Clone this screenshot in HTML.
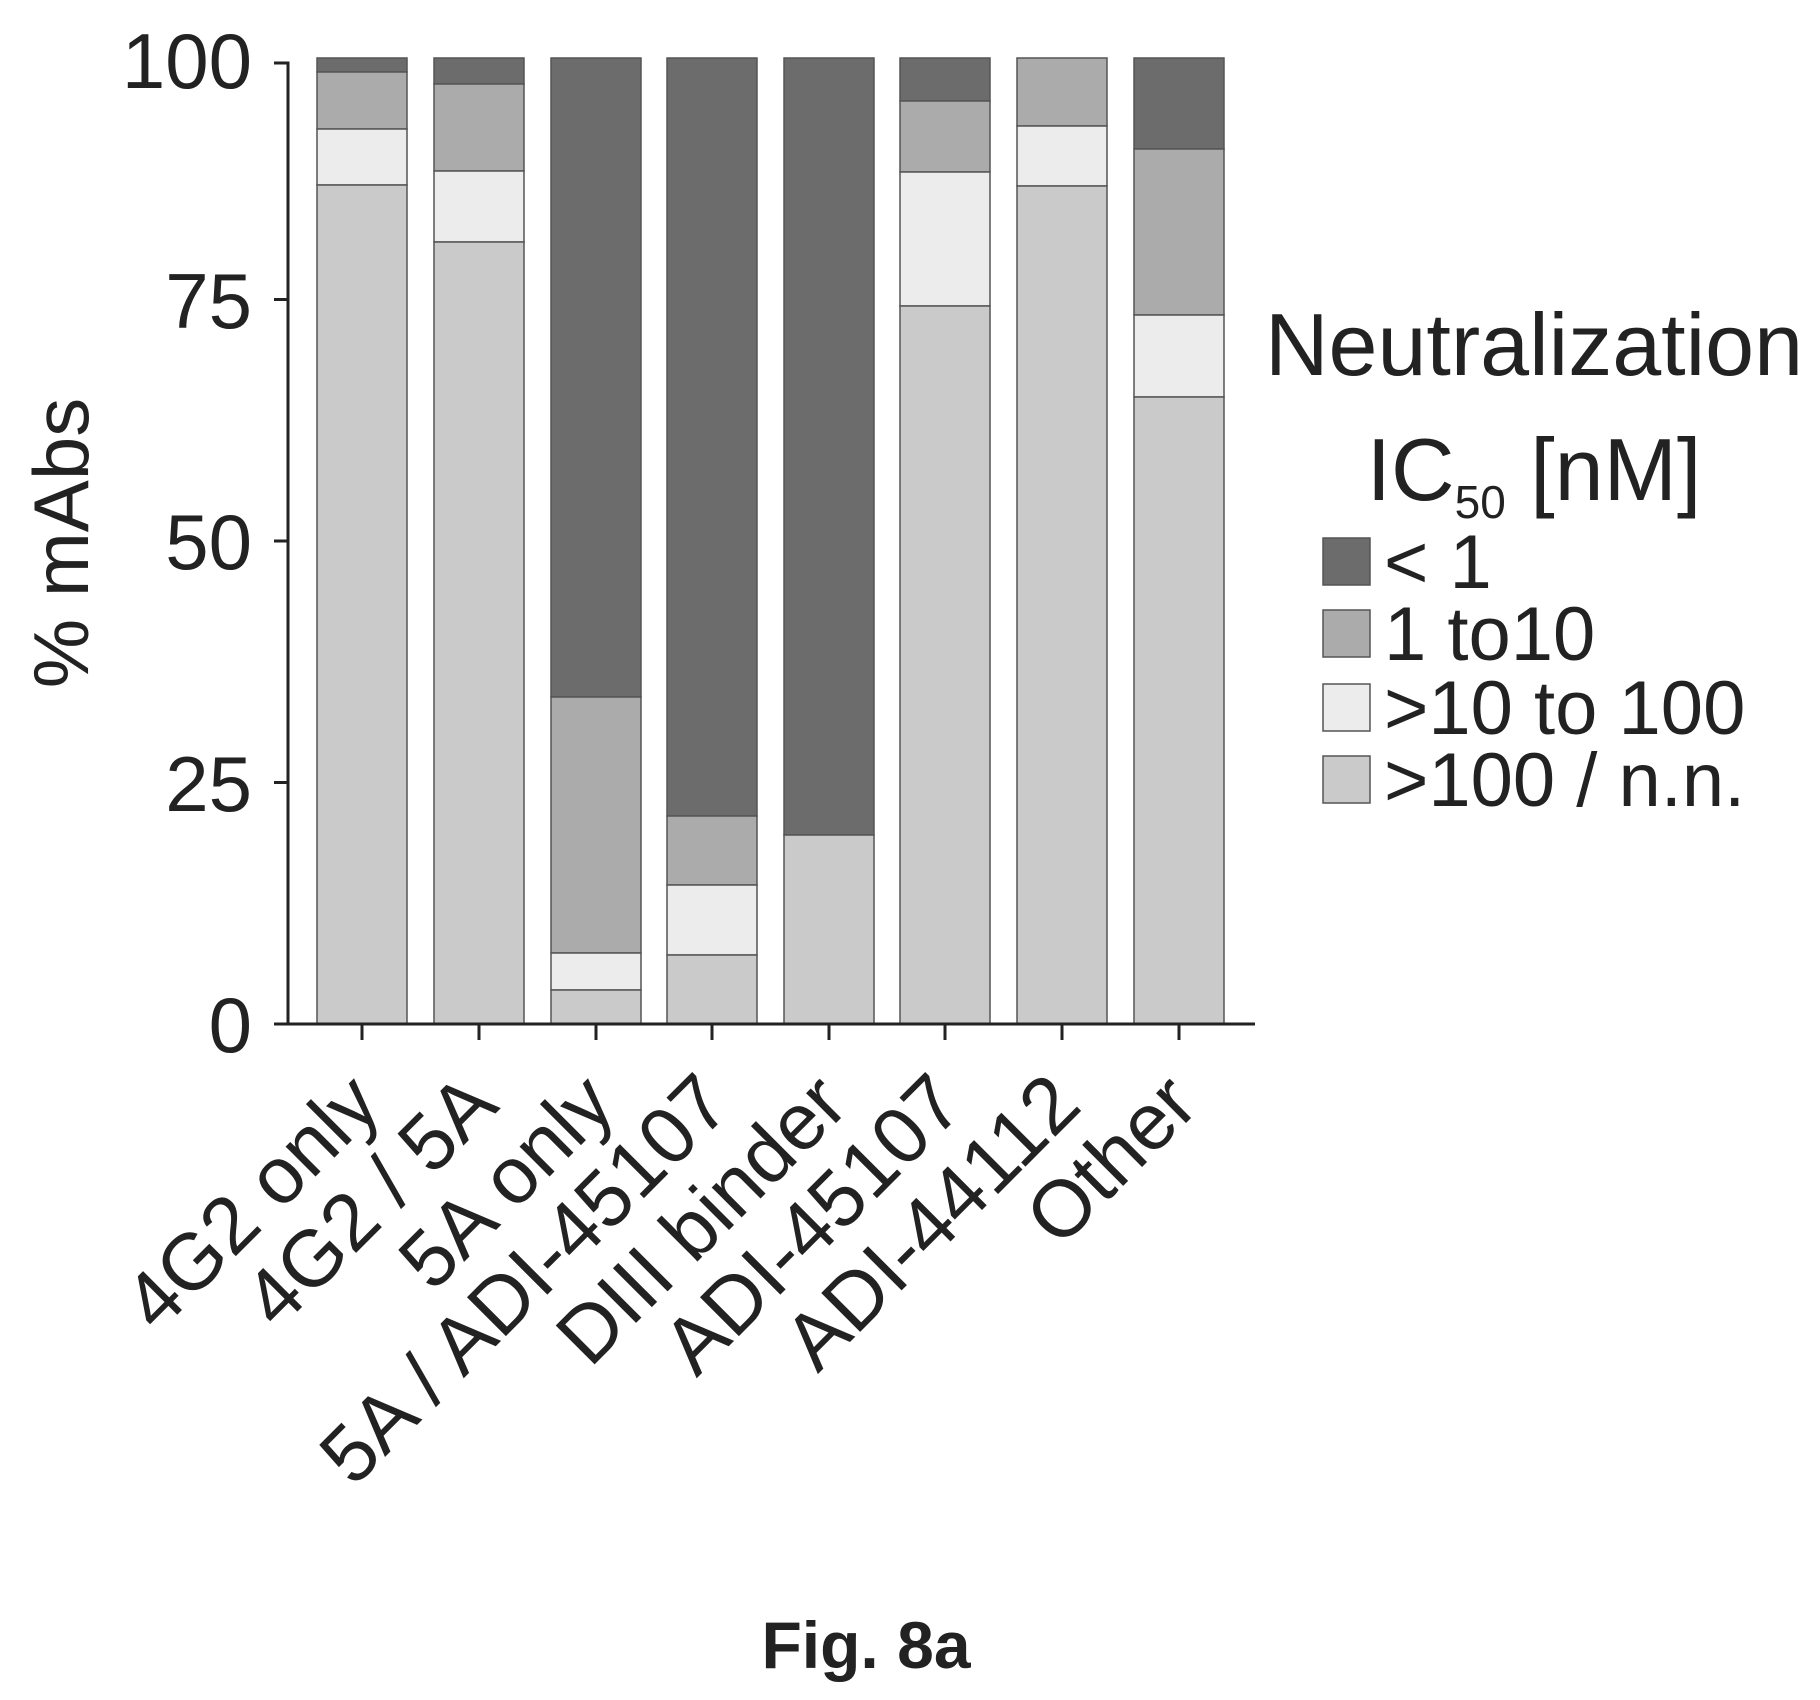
<!DOCTYPE html>
<html><head><meta charset="utf-8"><style>html,body{margin:0;padding:0;background:#fff;}svg{display:block;}</style></head>
<body>
<svg width="1820" height="1700" viewBox="0 0 1820 1700" xmlns="http://www.w3.org/2000/svg" font-family="Liberation Sans, Arial, sans-serif">
<g stroke="#555" stroke-width="1.5">
<rect x="317" y="58" width="90" height="14" fill="#6c6c6c"/>
<rect x="317" y="72" width="90" height="57" fill="#ababab"/>
<rect x="317" y="129" width="90" height="56" fill="#ececec"/>
<rect x="317" y="185" width="90" height="839" fill="#cacaca"/>
<rect x="434" y="58" width="90" height="26" fill="#6c6c6c"/>
<rect x="434" y="84" width="90" height="87" fill="#ababab"/>
<rect x="434" y="171" width="90" height="71" fill="#ececec"/>
<rect x="434" y="242" width="90" height="782" fill="#cacaca"/>
<rect x="551" y="58" width="90" height="639" fill="#6c6c6c"/>
<rect x="551" y="697" width="90" height="256" fill="#ababab"/>
<rect x="551" y="953" width="90" height="37" fill="#ececec"/>
<rect x="551" y="990" width="90" height="34" fill="#cacaca"/>
<rect x="667" y="58" width="90" height="758" fill="#6c6c6c"/>
<rect x="667" y="816" width="90" height="69" fill="#ababab"/>
<rect x="667" y="885" width="90" height="70" fill="#ececec"/>
<rect x="667" y="955" width="90" height="69" fill="#cacaca"/>
<rect x="784" y="58" width="90" height="777" fill="#6c6c6c"/>
<rect x="784" y="835" width="90" height="189" fill="#cacaca"/>
<rect x="900" y="58" width="90" height="43" fill="#6c6c6c"/>
<rect x="900" y="101" width="90" height="71" fill="#ababab"/>
<rect x="900" y="172" width="90" height="134" fill="#ececec"/>
<rect x="900" y="306" width="90" height="718" fill="#cacaca"/>
<rect x="1017" y="58" width="90" height="68" fill="#ababab"/>
<rect x="1017" y="126" width="90" height="60" fill="#ececec"/>
<rect x="1017" y="186" width="90" height="838" fill="#cacaca"/>
<rect x="1134" y="58" width="90" height="91" fill="#6c6c6c"/>
<rect x="1134" y="149" width="90" height="166" fill="#ababab"/>
<rect x="1134" y="315" width="90" height="82" fill="#ececec"/>
<rect x="1134" y="397" width="90" height="627" fill="#cacaca"/>
</g>
<g stroke="#222" stroke-width="3" fill="none">
<path d="M274 63 H288 V1024"/>
<path d="M274 1024 H1255"/>
<path d="M274 782.5 H288 M274 541 H288 M274 299.5 H288"/>
<path d="M362 1024 V1040 M479 1024 V1040 M596 1024 V1040 M712 1024 V1040 M829 1024 V1040 M945 1024 V1040 M1062 1024 V1040 M1179 1024 V1040"/>
</g>
<g font-size="78" fill="#222" text-anchor="end">
<text x="252" y="88">100</text>
<text x="252" y="328">75</text>
<text x="252" y="569">50</text>
<text x="252" y="811">25</text>
<text x="252" y="1052">0</text>
</g>
<text transform="translate(88,543) rotate(-90)" font-size="78" fill="#222" text-anchor="middle">% mAbs</text>
<g font-size="80" fill="#222" text-anchor="end">
<text transform="translate(384,1108) rotate(-45)">4G2 only</text>
<text transform="translate(501,1108) rotate(-45)">4G2 / 5A</text>
<text transform="translate(618,1108) rotate(-45)">5A only</text>
<text transform="translate(734,1108) rotate(-45)">5A / ADI-45107</text>
<text transform="translate(851,1108) rotate(-45)">DIII binder</text>
<text transform="translate(967,1108) rotate(-45)">ADI-45107</text>
<text transform="translate(1084,1108) rotate(-45)">ADI-44112</text>
<text transform="translate(1201,1108) rotate(-45)">Other</text>
</g>
<g fill="#222">
<text x="1534" y="375" font-size="88" text-anchor="middle">Neutralization</text>
<text x="1534" y="500" font-size="88" text-anchor="middle">IC<tspan font-size="46" dy="18">50</tspan><tspan dy="-18"> [nM]</tspan></text>
</g>
<g stroke="#555" stroke-width="1.5">
<rect x="1323" y="538" width="47" height="47" fill="#6c6c6c"/>
<rect x="1323" y="610" width="47" height="47" fill="#ababab"/>
<rect x="1323" y="684" width="47" height="47" fill="#ececec"/>
<rect x="1323" y="756" width="47" height="47" fill="#cacaca"/>
</g>
<g font-size="76" fill="#222">
<text x="1384" y="588">&lt; 1</text>
<text x="1384" y="660">1 to10</text>
<text x="1384" y="734">&gt;10 to 100</text>
<text x="1384" y="806">&gt;100 / n.n.</text>
</g>
<text x="866" y="1668" font-size="66" font-weight="bold" fill="#222" text-anchor="middle">Fig. 8a</text>
</svg>
</body></html>
